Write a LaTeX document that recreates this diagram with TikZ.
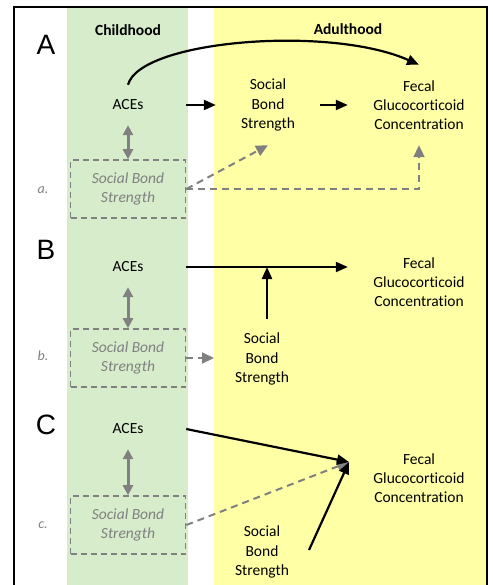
\documentclass[tikz,border=0pt]{standalone}
\usepackage{fontspec}
\setmainfont{Carlito}[Ligatures=NoCommon]
\newfontfamily\panelfont{Liberation Sans}
\usetikzlibrary{arrows.meta,positioning}

\definecolor{childgreen}{RGB}{214,236,203}
\definecolor{adultyellow}{RGB}{255,255,166}
\definecolor{pathgray}{RGB}{128,128,128}

\tikzset{
  txt/.style={font=\fontsize{15.5}{19.2}\selectfont, align=center, inner sep=0pt},
  aces/.style={txt, minimum width=116pt, minimum height=40pt},
  sbs/.style={txt, minimum width=104pt, minimum height=80pt},
  fgc/.style={txt, minimum width=142pt, minimum height=80pt},
  oldsbs/.style={txt, font=\fontsize{15.5}{19.2}\selectfont\itshape, text=pathgray,
    draw=pathgray, line width=1.6pt, dash pattern=on 6pt off 4pt,
    minimum width=115pt, minimum height=58pt},
  panel/.style={font=\panelfont\fontsize{28}{30}\selectfont},
  sub/.style={font=\fontsize{14}{16}\selectfont\itshape, text=pathgray},
  stage/.style={font=\fontsize{15.5}{17}\selectfont\bfseries},
  blk/.style={line width=2.2pt, -{Triangle[length=12pt,width=10pt]}},
  gry/.style={pathgray, line width=2pt, dash pattern=on 7pt off 5pt,
    -{Triangle[length=12pt,width=11pt]}},
  both/.style={pathgray, line width=3pt,
    {Triangle[length=10pt,width=10pt]}-{Triangle[length=10pt,width=10pt]}}
}

\begin{document}
\begin{tikzpicture}[x=1pt,y=-1pt]
\useasboundingbox (0,0) rectangle (492,585);

% life stages
\fill[childgreen] (67,7) rectangle (188,590);
\fill[adultyellow] (214,7) rectangle (487,590);
\draw[line width=1.5pt] (14,7) rectangle (487,592);
\node[stage] (child) at (128,30) {Childhood};
\node[stage] (adult) at (348,29) {Adulthood};

% A
\node[panel] (pA) at (46,45) {A};
\node[aces] (acesA) at (128,105) {ACEs};
\node[sbs] (sbsA) at (268,105) {Social\\Bond\\Strength};
\node[fgc] (fgcA) at (419,105) {Fecal\\Glucocorticoid\\Concentration};
\node[oldsbs] (boxA) at (128,189) {Social Bond\\Strength};
\node[sub] (subA) at (43,190) {a.};
\draw[blk] (acesA.east) -- (sbsA.west);
\draw[blk] (sbsA.east) -- (fgcA.west);
\draw[blk] (acesA.north) .. controls (140,40) and (330,25) .. (fgcA.north);
\draw[both] (acesA.south) -- (boxA.north);
\draw[gry] (boxA.east) -- (sbsA.south);
\draw[gry] (boxA.east) -| (fgcA.south);

% B
\node[panel] (pB) at (46,250) {B};
\node[aces] (acesB) at (128,267) {ACEs};
\node[fgc] (fgcB) at (419,282) {Fecal\\Glucocorticoid\\Concentration};
\node[sbs] (sbsB) at (262,359) {Social\\Bond\\Strength};
\node[oldsbs] (boxB) at (128,358) {Social Bond\\Strength};
\node[sub] (subB) at (43,356) {b.};
\coordinate (jB) at (267,267);
\coordinate (adultB) at (214,358);
\draw[blk] (acesB.east) -- (acesB -| fgcB.west);
\draw[blk] (sbsB.north -| jB) -- (jB);
\draw[both] (acesB.south) -- (boxB.north);
\draw[gry] (boxB.east) -- (adultB);

% C
\node[panel] (pC) at (46,425) {C};
\node[aces] (acesC) at (128,429) {ACEs};
\node[fgc] (fgcC) at (419,478) {Fecal\\Glucocorticoid\\Concentration};
\node[sbs] (sbsC) at (262,552) {Social\\Bond\\Strength};
\node[oldsbs] (boxC) at (128,525) {Social Bond\\Strength};
\node[sub] (subC) at (43,525) {c.};
\coordinate (hitC) at (349,462);
\coordinate (startC) at (309,550);
\draw[both] (acesC.south) -- (boxC.north);
\draw[gry] (boxC.east) -- (hitC);
\draw[blk] (acesC.east) -- (hitC);
\draw[blk] (startC) -- (hitC);
\end{tikzpicture}
\end{document}
